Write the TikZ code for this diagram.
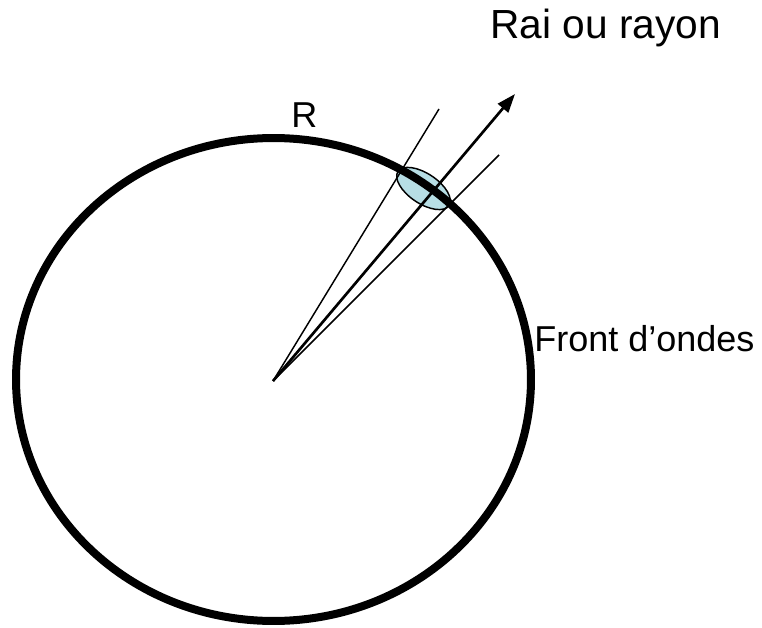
\documentclass[tikz,border=0pt]{standalone}
\usepackage{fontspec}
\setmainfont{Liberation Sans}
\usetikzlibrary{arrows.meta}
\definecolor{spotblue}{RGB}{183,222,229}

\begin{document}
\begin{tikzpicture}[x=0.75pt, y=-0.75pt, >={Triangle[length=14pt,width=10pt]},
  lbl/.style={inner sep=0pt, anchor=base west}]
  \useasboundingbox (0,0) rectangle (762,627);
  \coordinate (O) at (273,381);
  \coordinate (A) at (439,109);
  \coordinate (B) at (499,155);
  \coordinate (T) at (515,94);
  \coordinate (E) at (423.5,188.5);
  % patch of the front
  \filldraw[fill=spotblue, line width=1.1pt, rotate around={-33.7:(E)}]
    (E) ellipse [x radius=23pt, y radius=11.25pt];
  % wave front
  \draw[line width=6pt] (273.5,379.5) ellipse [x radius=193.1pt, y radius=181.1pt];
  \draw[line width=1.1pt] (O) -- (A);
  \draw[line width=1.1pt] (O) -- (B);
  \draw[->, line width=2pt] (O) -- (T);
  \node[lbl, font=\fontsize{30.5}{36}\selectfont] (ray) at (490,39) {Rai ou rayon};
  \node[lbl, font=\fontsize{27}{32}\selectfont] (rad) at (291,128) {R};
  \node[lbl, font=\fontsize{27}{32}\selectfont] (front) at (534,351) {Front d’ondes};
\end{tikzpicture}
\end{document}
